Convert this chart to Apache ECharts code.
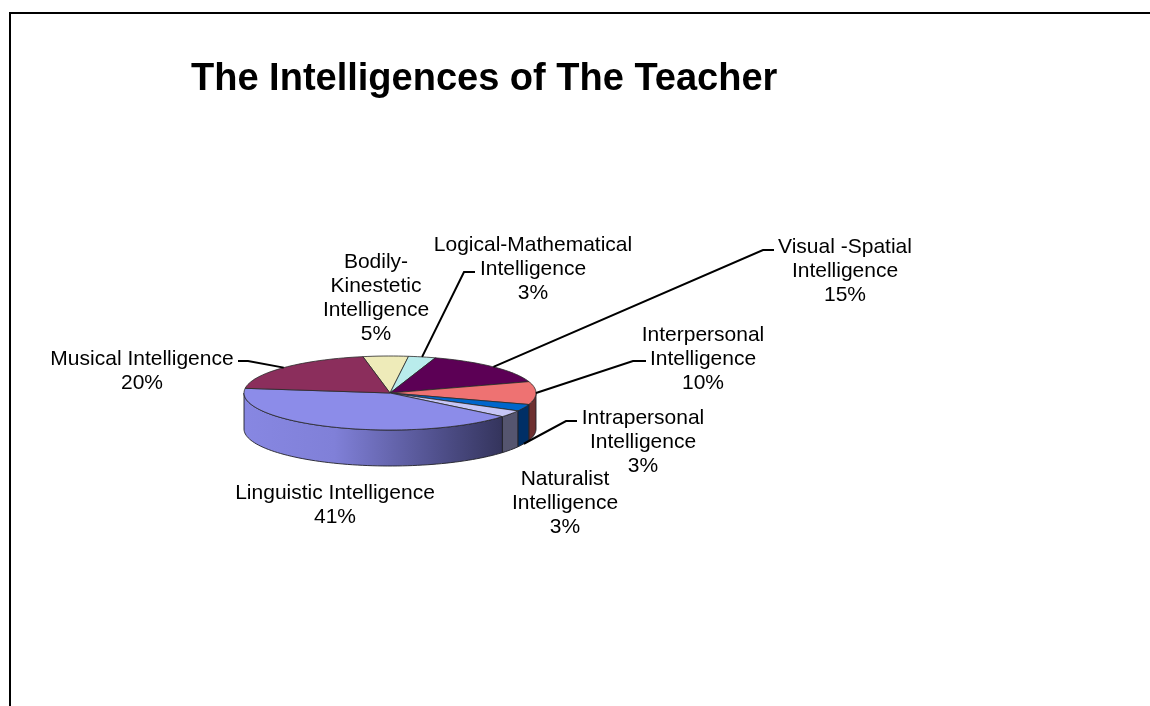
<!DOCTYPE html>
<html>
<head>
<meta charset="utf-8">
<script src="https://cdn.jsdelivr.net/npm/echarts@6/dist/echarts.min.js"></script>
<style>
html, body { margin: 0; padding: 0; background: #fff; }
#main { width: 1150px; height: 706px; }
</style>
</head>
<body>
<div id="main"></div>
<script>
var titleText = 'The Intelligences of The Teacher';
// order is clockwise from the top of the pie
var categories = ['Bodily-Kinestetic Intelligence', 'Logical-Mathematical Intelligence', 'Visual -Spatial Intelligence', 'Interpersonal Intelligence', 'Intrapersonal Intelligence', 'Naturalist Intelligence', 'Linguistic Intelligence', 'Musical Intelligence'];
var values = [5, 3, 15, 10, 3, 3, 41, 20];
var labelLines = [
    ['Bodily-', 'Kinestetic', 'Intelligence', '5%'],
    ['Logical-Mathematical', 'Intelligence', '3%'],
    ['Visual -Spatial', 'Intelligence', '15%'],
    ['Interpersonal', 'Intelligence', '10%'],
    ['Intrapersonal', 'Intelligence', '3%'],
    ['Naturalist', 'Intelligence', '3%'],
    ['Linguistic Intelligence', '41%'],
    ['Musical Intelligence', '20%']
];
var topColors = ['#eeebb9', '#b9ecec', '#5c0055', '#ee7272', '#0066cc', '#c6c6f6', '#8c8ce9', '#8b2e5c'];
var wallColors = ['#aaa888', '#88aaaa', '#3c0038', '#6e3030', '#002f66', '#55556f', '#8c8ce9', '#5c1e3c'];

// pie geometry
var cx = 390, cy = 393, rx = 146, ry = 37, depth = 36;
var startAngle = -10.7;

// label centre x / first line y
var labelPos = [
    [376, 262], [533, 245], [845, 247], [703, 335], [643, 418], [565, 479], [335, 493], [142, 359]
];
// leader line: end beside the text, then the bend; the third point is on the pie rim
var leaders = [
    null,
    [[475, 272], [464, 272]],
    [[774, 250], [763, 250]],
    [[646, 361], [633, 361]],
    [[577, 421], [566, 421]],
    null,
    null,
    [[238, 361], [248, 361]]
];
var leaderDrop = [0, 0, 0, 0, depth, 0, 0, 0];
var lineHeight = 24;

var total = values.reduce(function (a, b) { return a + b; }, 0);
var slices = [];
var acc = startAngle;
for (var i = 0; i < values.length; i++) {
    var sweep = values[i] / total * 360;
    slices.push({ from: acc, to: acc + sweep });
    acc += sweep;
}

function pt(deg, dy) {
    var r = deg * Math.PI / 180;
    return [cx + rx * Math.sin(r), cy - ry * Math.cos(r) + (dy || 0)];
}

function arc(from, to, dy) {
    var pts = [];
    var n = Math.max(2, Math.ceil(Math.abs(to - from) / 2));
    for (var k = 0; k <= n; k++) {
        pts.push(pt(from + (to - from) * k / n, dy));
    }
    return pts;
}

function renderWall(params, api) {
    var i = api.value(0);
    var s = slices[i];
    var from = Math.max(s.from, 90), to = Math.min(s.to, 270);
    if (to <= from) return { type: 'group', children: [] };
    var pts = arc(from, to, 0).concat(arc(to, from, depth));
    var fill = wallColors[i];
    if (i === 6) {
        fill = new echarts.graphic.LinearGradient(0, 0, 1, 0, [
            { offset: 0, color: '#8787e2' },
            { offset: 0.35, color: '#8080d8' },
            { offset: 0.75, color: '#50508c' },
            { offset: 1, color: '#34345c' }
        ]);
    }
    return {
        type: 'polygon',
        shape: { points: pts },
        style: { fill: fill, stroke: '#202028', lineWidth: 0.9 }
    };
}

function renderTop(params, api) {
    var i = api.value(0);
    var s = slices[i];
    var pts = [[cx, cy]].concat(arc(s.from, s.to, 0));
    return {
        type: 'polygon',
        shape: { points: pts },
        style: { fill: topColors[i], stroke: '#2a2a2a', lineWidth: 0.8 }
    };
}

function renderLabel(params, api) {
    var i = api.value(0);
    var pos = labelPos[i];
    var children = [];
    var lines = labelLines[i];
    for (var k = 0; k < lines.length; k++) {
        children.push({
            type: 'text',
            style: {
                text: lines[k],
                x: pos[0],
                y: pos[1] + k * lineHeight,
                fill: '#000',
                font: '21px "Liberation Sans", Arial, sans-serif',
                align: 'center',
                verticalAlign: 'middle'
            }
        });
    }
    if (leaders[i]) {
        var mid = (slices[i].from + slices[i].to) / 2;
        children.push({
            type: 'polyline',
            shape: { points: [leaders[i][0], leaders[i][1], pt(mid, leaderDrop[i])] },
            style: { fill: 'none', stroke: '#000', lineWidth: 2 }
        });
    }
    return { type: 'group', children: children };
}

var idx = values.map(function (v, i) { return [i, v]; });
var chart = echarts.init(document.getElementById('main'), null, { renderer: 'canvas' });
chart.setOption({
    animation: false,
    backgroundColor: '#fff',
    title: {
        text: titleText,
        left: 186,
        top: 56,
        textStyle: { fontFamily: '"Liberation Sans", Arial, sans-serif', fontWeight: 'bold', fontSize: 38, color: '#000' }
    },
    graphic: [{
        type: 'polyline',
        shape: { points: [[10, 720], [10, 13], [1160, 13]] },
        style: { fill: 'none', stroke: '#000', lineWidth: 2 }
    }],
    series: [
        { type: 'custom', coordinateSystem: 'none', data: idx, renderItem: renderWall, z: 2, silent: true },
        { type: 'custom', coordinateSystem: 'none', data: idx, renderItem: renderTop, z: 3, silent: true },
        { type: 'custom', coordinateSystem: 'none', data: idx, renderItem: renderLabel, z: 4, silent: true }
    ]
});
</script>
</body>
</html>
